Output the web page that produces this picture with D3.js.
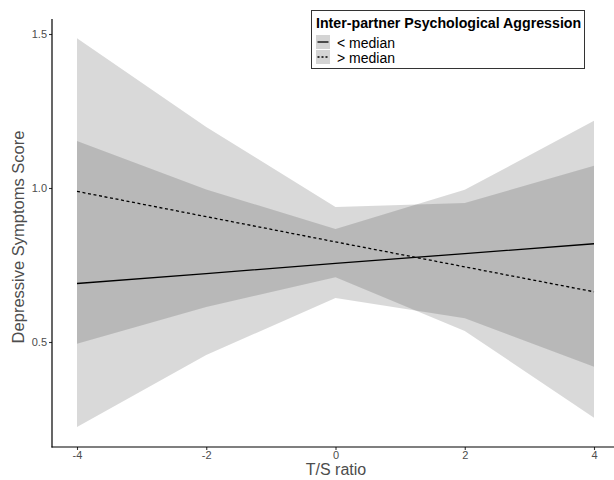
<!DOCTYPE html>
<html>
<head>
<meta charset="utf-8">
<script src="https://cdn.jsdelivr.net/npm/d3@7"></script>
<style>
  html, body { margin: 0; padding: 0; background: #fff; }
  svg { display: block; font-family: "Liberation Sans", Arial, Helvetica, sans-serif; }
</style>
</head>
<body>
<svg id="chart" width="614" height="480"></svg>
<script>
// ---- data ----
const tsRatio = [-4, -2, 0, 2, 4];
const belowFit   = [0.690, 0.722, 0.755, 0.787, 0.819];
const belowLower = [0.224, 0.458, 0.643, 0.577, 0.420];
const belowUpper = [1.153, 0.995, 0.867, 0.994, 1.218];
const aboveFit   = [0.989, 0.907, 0.825, 0.744, 0.663];
const aboveLower = [0.494, 0.614, 0.710, 0.536, 0.254];
const aboveUpper = [1.486, 1.198, 0.938, 0.951, 1.072];
const xTicks = [-4, -2, 0, 2, 4];
const yTicks = [0.5, 1.0, 1.5];
const seriesNames = ["< median", "> median"];
const legendTitle = "Inter-partner Psychological Aggression";
const xTitle = "T/S ratio";
const yTitle = "Depressive Symptoms Score";

// ---- layout ----
const svg = d3.select("#chart");
const padL = 52, padB = 447, padT = 19, padR = 614;
const x = d3.scaleLinear().domain([-4, 4]).range([77, 594]);
const y = d3.scaleLinear().domain([0.5, 1.5]).range([342, 34]);

const series = [
  { name: seriesNames[0], fit: belowFit, lo: belowLower, hi: belowUpper, dash: null },
  { name: seriesNames[1], fit: aboveFit, lo: aboveLower, hi: aboveUpper, dash: "3,2.6" }
];

const area = d3.area()
  .x(d => x(d.x)).y0(d => y(d.lo)).y1(d => y(d.hi));
const line = d3.line().x(d => x(d.x)).y(d => y(d.v));

// ribbons
series.forEach(s => {
  const pts = tsRatio.map((t, i) => ({ x: t, lo: s.lo[i], hi: s.hi[i] }));
  svg.append("path").attr("d", area(pts))
    .attr("fill", "#000").attr("fill-opacity", 0.15).attr("stroke", "none");
});
// lines
series.forEach(s => {
  const pts = tsRatio.map((t, i) => ({ x: t, v: s.fit[i] }));
  svg.append("path").attr("d", line(pts))
    .attr("fill", "none").attr("stroke", "#000").attr("stroke-width", 1.3)
    .attr("stroke-dasharray", s.dash);
});

// axes
const xAxis = d3.axisBottom(x).tickValues(xTicks).tickSize(3).tickPadding(1)
  .tickFormat(d => d < 0 ? "-" + Math.abs(d) : String(d));
const gx = svg.append("g").attr("transform", `translate(0,${padB})`).call(xAxis);
gx.select(".domain").remove();
gx.selectAll(".tick line").attr("stroke", "#333").attr("stroke-width", 1.1);
gx.selectAll(".tick text").attr("fill", "#4d4d4d").attr("font-size", 11)
  .attr("font-family", "Liberation Sans, Arial, sans-serif");

const yAxis = d3.axisLeft(y).tickValues(yTicks).tickSize(3).tickPadding(2)
  .tickFormat(d3.format(".1f"));
const gy = svg.append("g").attr("transform", `translate(${padL},0)`).call(yAxis);
gy.select(".domain").remove();
gy.selectAll(".tick line").attr("stroke", "#333").attr("stroke-width", 1.1);
gy.selectAll(".tick text").attr("fill", "#4d4d4d").attr("font-size", 11)
  .attr("font-family", "Liberation Sans, Arial, sans-serif");

// axis lines
svg.append("line").attr("x1", padL).attr("x2", padL).attr("y1", padT).attr("y2", padB + 0.5)
  .attr("stroke", "#000").attr("stroke-width", 1.2);
svg.append("line").attr("x1", padL - 0.5).attr("x2", padR).attr("y1", padB).attr("y2", padB)
  .attr("stroke", "#000").attr("stroke-width", 1.2);

// axis titles
svg.append("text").attr("x", 336).attr("y", 475).attr("text-anchor", "middle")
  .attr("font-size", 16).attr("fill", "#4d4d4d").text(xTitle);
svg.append("text").attr("transform", "translate(24,237) rotate(-90)")
  .attr("text-anchor", "middle").attr("font-size", 16.5).attr("fill", "#4d4d4d").text(yTitle);

// legend
const lg = svg.append("g");
lg.append("rect").attr("x", 311.5).attr("y", 10.5).attr("width", 273).attr("height", 58)
  .attr("fill", "#fff").attr("stroke", "#333").attr("stroke-width", 1);
lg.append("text").attr("x", 316).attr("y", 28).attr("font-size", 14.2).attr("font-weight", "bold")
  .attr("fill", "#000").text(legendTitle);
series.forEach((s, i) => {
  const ky = 35 + i * 15;
  lg.append("rect").attr("x", 316).attr("y", ky).attr("width", 14).attr("height", 14)
    .attr("fill", "#d4d4d4");
  lg.append("line").attr("x1", 317.5).attr("x2", 328.5).attr("y1", ky + 7).attr("y2", ky + 7)
    .attr("stroke", "#000").attr("stroke-width", 1.3).attr("stroke-dasharray", s.dash ? "2,2" : null);
  lg.append("text").attr("x", 337).attr("y", ky + 12.5).attr("font-size", 14)
    .attr("fill", "#000").text(s.name);
});
</script>
</body>
</html>
